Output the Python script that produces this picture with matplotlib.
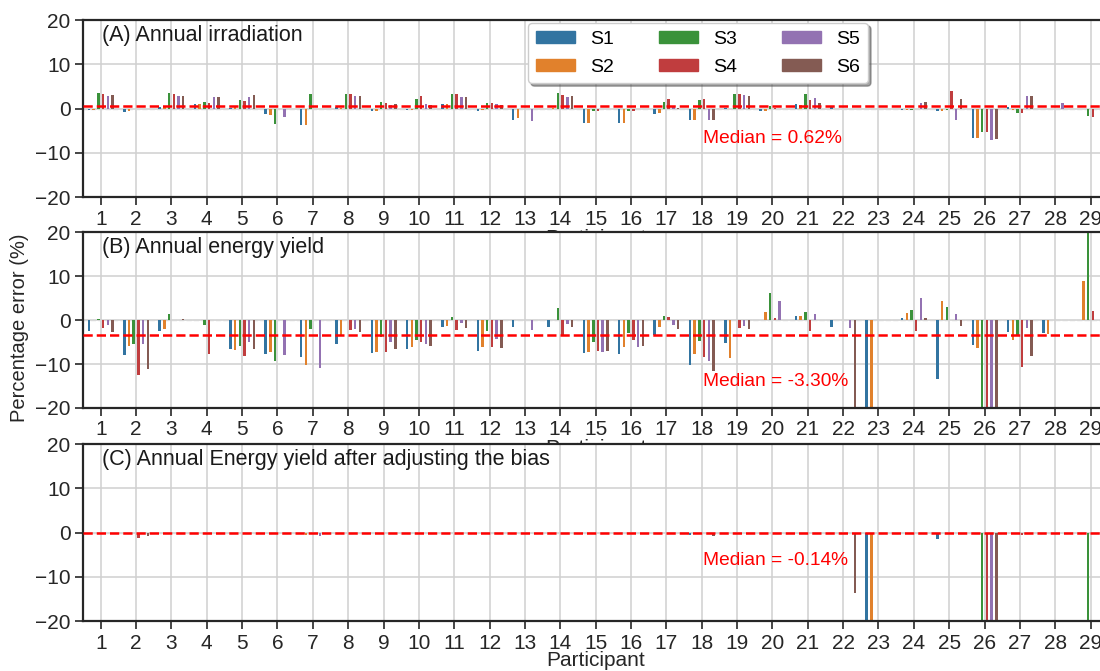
import numpy as np
import matplotlib.pyplot as plt
import matplotlib.patches as mpatches

plt.rcParams['font.family'] = ['Liberation Sans', 'DejaVu Sans']

participants = list(range(1, 30))
series = ['S1', 'S2', 'S3', 'S4', 'S5', 'S6']
colors = ['#3274a1', '#e1812c', '#3a923a', '#c03d3e', '#9372b2', '#845b53']

# (A) annual irradiation, % error, one list per series
irr_s1 = [-0.3, -0.7, 0.3, 1.1, 0.2, -1.3, -3.7, 0.3, -0.5, -0.3, 1.0, -0.5, -2.6, 0.0, -3.3, -3.3, -1.1, -2.6, 0.2, -0.6, 1.0, 0.3, 0.0, -0.2, -0.5, -6.6, 0.3, 0.0, 0.0]
irr_s2 = [-0.3, -0.5, 0.3, 1.0, 0.5, -1.5, -3.7, 0.2, -0.5, -0.3, 1.0, -0.3, -2.2, 0.2, -3.3, -3.3, -1.0, -2.6, 0.0, -0.6, 0.9, 0.0, 0.0, -0.3, -0.5, -6.6, -0.3, 0.0, 0.0]
irr_s3 = [3.6, 0.0, 3.5, 1.5, 1.9, -3.5, 3.3, 3.4, 1.5, 2.1, 3.4, 1.4, 0.0, 3.5, -0.6, -0.6, 1.5, 2.0, 3.3, 0.5, 3.4, 0.0, 0.0, -0.3, -0.4, -5.2, -1.0, 0.0, -1.7]
irr_s4 = [3.4, 0.0, 3.3, 1.3, 1.8, 0.0, 0.0, 3.3, 1.2, 2.8, 3.3, 1.2, 0.0, 3.2, -0.5, -0.5, 2.1, 2.3, 3.3, 0.2, 1.9, 0.0, 0.0, 0.0, 3.9, -5.2, -1.0, 0.0, -1.8]
irr_s5 = [2.8, 0.0, 2.8, 2.6, 2.7, -1.8, 0.0, 2.9, 0.8, 1.0, 2.6, 1.0, -2.8, 2.6, 0.0, 0.0, 0.3, -2.6, 3.0, 0.0, 2.5, 0.0, 0.0, 1.3, -2.6, -7.0, 2.9, 1.3, 0.0]
irr_s6 = [3.0, 0.0, 2.8, 2.6, 3.0, 0.0, 0.0, 2.9, 1.0, 0.8, 2.6, 0.8, 0.0, 2.8, 0.0, 0.0, 0.2, -2.6, 2.8, 0.0, 1.4, 0.0, 0.0, 1.6, 2.3, -6.8, 2.9, 0.0, 0.0]

# (B) annual energy yield
ey_s1 = [-2.5, -8.0, -2.5, 0.0, -6.6, -7.7, -8.4, -5.4, -7.6, -6.5, -1.5, -7.0, -1.5, -1.5, -7.5, -7.8, -3.4, -10.3, -5.3, 0.0, 0.9, -1.5, -25.0, 0.5, -13.4, -5.7, -2.8, -3.0, 0.0]
ey_s2 = [0.0, -5.8, -2.0, 0.0, -6.8, -7.2, -10.2, -3.4, -7.2, -6.2, -1.4, -6.2, 0.0, 0.0, -7.3, -6.2, -1.5, -7.8, -8.6, 1.8, 0.9, 0.0, -25.0, 1.5, 4.3, -6.3, -4.5, -3.2, 8.9]
ey_s3 = [0.3, -5.5, 1.3, -1.2, -5.9, -9.3, -2.0, 0.0, -3.8, -4.5, 0.6, -2.6, 0.0, 2.7, -5.1, -2.9, 0.9, -4.7, 0.0, 6.2, 1.9, 0.0, 0.0, 2.3, 2.9, -25.0, -3.5, 0.0, 25.0]
ey_s4 = [-1.7, -12.5, 0.0, -7.8, -8.2, 0.0, 0.0, -2.3, -7.2, -5.0, -2.3, -6.2, 0.0, -3.6, -7.0, -4.5, 0.6, -8.5, -1.7, 0.4, -2.5, 0.0, 0.0, -2.6, 0.0, -25.0, -10.6, 0.0, 2.1]
ey_s5 = [-1.1, -5.5, 0.0, 0.0, -5.1, -8.0, -10.8, -2.0, -5.1, -5.5, -0.6, -4.3, -2.3, -0.9, -7.3, -6.2, -1.2, -9.4, -1.4, 4.3, 1.3, -1.9, 0.0, 5.0, 1.3, -25.0, -1.7, 0.0, 0.0]
ey_s6 = [-2.7, -11.1, 0.3, 0.0, -6.6, 0.0, 0.0, -2.7, -6.6, -5.8, -1.9, -6.4, 0.0, -1.6, -7.0, -5.9, -2.1, -11.5, -2.0, 0.0, 0.0, -25.0, 0.0, 0.4, -1.4, -25.0, -8.1, 0.0, 0.0]

# (C) annual energy yield after adjusting the bias
adj_s1 = [0.0, 0.0, 0.0, 0.0, 0.0, 0.0, 0.0, 0.0, 0.0, 0.0, 0.0, -0.2, 0.0, 0.0, 0.0, 0.0, 0.0, -0.5, 0.0, 0.0, 0.0, 0.0, -25.0, 0.0, -1.5, 0.0, 0.0, 0.0, 0.0]
adj_s2 = [0.0, 0.0, 0.0, 0.0, 0.0, 0.0, -0.6, 0.0, 0.0, 0.0, 0.0, 0.0, 0.0, 0.0, 0.0, 0.0, 0.0, 0.0, 0.0, 0.0, 0.0, 0.0, -25.0, 0.0, 0.0, 0.0, 0.0, 0.0, -0.3]
adj_s3 = [0.0, 0.0, 0.0, 0.0, 0.0, -0.4, 0.0, 0.0, 0.0, 0.0, 0.0, 0.0, 0.0, 0.0, 0.0, 0.0, 0.0, 0.0, 0.0, 0.0, 0.0, 0.0, 0.0, 0.0, 0.0, -25.0, 0.0, 0.0, -25.0]
adj_s4 = [0.0, -1.2, 0.0, 0.0, -0.3, 0.0, 0.0, 0.0, 0.0, 0.0, 0.0, 0.0, 0.0, 0.0, 0.0, 0.0, 0.0, 0.0, 0.0, 0.0, 0.0, 0.0, 0.0, 0.0, 0.0, -25.0, -0.5, 0.0, 0.0]
adj_s5 = [0.0, 0.0, 0.0, 0.0, 0.0, 0.0, -0.8, 0.0, 0.0, 0.0, 0.0, 0.0, 0.0, 0.0, 0.0, 0.0, 0.0, -0.3, 0.0, 0.0, 0.0, 0.0, 0.0, 0.0, 0.0, -25.0, 0.0, 0.0, 0.0]
adj_s6 = [0.0, -0.8, 0.0, 0.0, 0.0, 0.0, 0.0, 0.0, 0.0, 0.0, 0.0, 0.0, 0.0, 0.0, 0.0, 0.0, 0.0, -0.8, 0.0, 0.0, 0.0, -13.7, 0.0, 0.0, 0.0, -25.0, 0.0, 0.0, 0.0]

titles = ['(A) Annual irradiation', '(B) Annual energy yield',
          '(C) Annual Energy yield after adjusting the bias']
medians = [0.62, -3.30, -0.14]
median_labels = ['Median = 0.62%', 'Median = -3.30%', 'Median = -0.14%']
median_text_y = [-6.7, -14.0, -6.2]

panels = [[irr_s1, irr_s2, irr_s3, irr_s4, irr_s5, irr_s6],
          [ey_s1, ey_s2, ey_s3, ey_s4, ey_s5, ey_s6],
          [adj_s1, adj_s2, adj_s3, adj_s4, adj_s5, adj_s6]]

fig = plt.figure(figsize=(11, 6.71), dpi=100)
# axes boxes in figure fraction (left, bottom, width, height)
boxes = [[0.0755, 0.706, 0.932, 0.264],
         [0.0755, 0.392, 0.932, 0.262],
         [0.0755, 0.0745, 0.932, 0.2635]]

x = np.array(participants)
step = 0.133
axes = []
for i, data in enumerate(panels):
    ax = fig.add_axes(boxes[i])
    axes.append(ax)
    ax.set_axisbelow(True)
    ax.grid(True, color='#d0d0d0', lw=1.1)
    ax.axhline(0, color='#d8d8d8', lw=1, ls='--', zorder=1)
    for j, vals in enumerate(data):
        ax.bar(x + (j - 2.5) * step, vals, width=0.07, color=colors[j],
               label=series[j], zorder=2)
    ax.axhline(medians[i], color='red', ls='--', lw=1.8, zorder=3)
    ax.text(18.05, median_text_y[i], median_labels[i], color='red',
            fontsize=13.8, va='center')
    ax.text(0.018, 0.975, titles[i], transform=ax.transAxes, fontsize=15.5,
            va='top', ha='left', color='#1a1a1a')
    ax.set_xlim(0.5, 29.5)
    ax.set_ylim(-20, 20)
    ax.set_xticks(participants)
    ax.set_yticks([-20, -10, 0, 10, 20])
    ax.tick_params(labelsize=15, length=6, width=1.2, colors='#262626', pad=3)
    for s in ['left', 'bottom', 'top']:
        ax.spines[s].set_linewidth(1.6)
        ax.spines[s].set_color('#262626')
    # the labels of the upper panels sit mostly under the next panel
    if i < 2:
        ax.set_xlabel('Participant', fontsize=15.5, color='#262626', labelpad=0)
    else:
        ax.set_xlabel('Participant', fontsize=15, color='#262626', labelpad=-1)

handles = [mpatches.Patch(color=colors[j], label=series[j]) for j in range(6)]
axes[0].legend(handles=handles, ncol=3, loc='upper center',
               bbox_to_anchor=(0.60, 1.0), borderaxespad=0.15, fontsize=14,
               frameon=True, shadow=True, framealpha=1, edgecolor='#cccccc',
               handlelength=2.0, handleheight=0.6, columnspacing=2.3,
               borderpad=0.4, labelspacing=0.55)

fig.text(0.018, 0.512, 'Percentage error (%)', rotation=90, fontsize=14.5,
         va='center', ha='center', color='#262626')

fig.savefig('out.png', dpi=100)
